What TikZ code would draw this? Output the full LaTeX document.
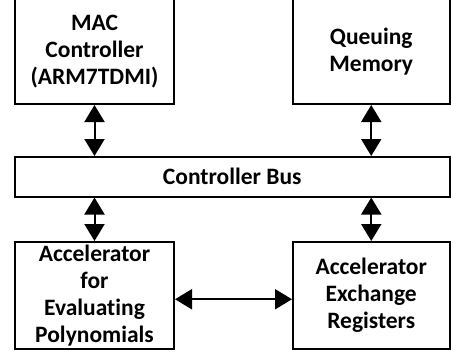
\documentclass[tikz,border=0pt]{standalone}
\usepackage{fontspec}
\setmainfont[Ligatures=NoCommon]{Carlito}
\usetikzlibrary{arrows.meta}
\begin{document}
\begin{tikzpicture}[x=1pt,y=1pt,
  blk/.style={draw=black, line width=2pt, rectangle, inner sep=0pt, align=center,
    font=\fontsize{23.5}{27}\selectfont\bfseries},
  biarrow/.style={line width=2pt, {Triangle[width=20pt,length=17pt]}-{Triangle[width=20pt,length=17pt]}}]
\useasboundingbox (0,0) rectangle (451,-356);
\node[blk, minimum width=159pt, minimum height=105.5pt] (mac) at (94.5,-51.25) {MAC\\Controller\\(ARM7TDMI)};
\node[blk, minimum width=156.5pt, minimum height=105.5pt] (queue) at (371.25,-51.25) {Queuing\\Memory};
\node[blk, minimum width=434.5pt, minimum height=39.5pt] (bus) at (232.25,-176.75) {Controller Bus};
\node[blk, minimum width=159pt, minimum height=106.5pt] (acc) at (94.5,-295.25) {Accelerator\\for\\Evaluating\\Polynomials};
\node[blk, minimum width=156.5pt, minimum height=106.5pt] (reg) at (371.25,-295.25) {Accelerator\\Exchange\\Registers};
\draw[biarrow] (mac.south) -- (mac.south |- bus.north);
\draw[biarrow] (queue.south) -- (queue.south |- bus.north);
\draw[biarrow] (acc.north |- bus.south) -- (acc.north);
\draw[biarrow] (reg.north |- bus.south) -- (reg.north);
\draw[biarrow] ([yshift=-4pt]acc.east) -- ([yshift=-4pt]reg.west);
\end{tikzpicture}
\end{document}
